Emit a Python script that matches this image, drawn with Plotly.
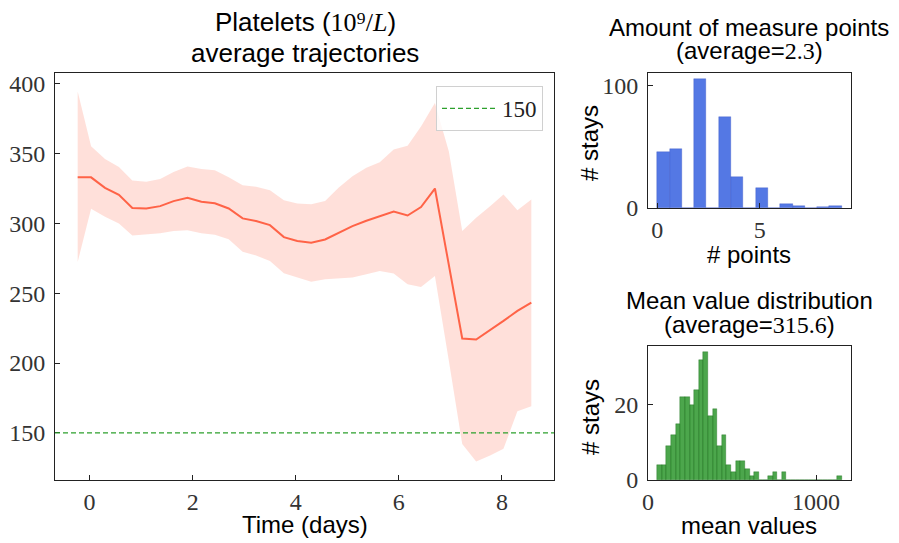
import numpy as np
import plotly.graph_objects as go

# platelets trajectory (days from admission)
days = [-0.23, 0.03, 0.30, 0.57, 0.83, 1.10, 1.37, 1.63, 1.90, 2.17, 2.43, 2.70,
        2.97, 3.23, 3.50, 3.77, 4.03, 4.30, 4.57, 4.83, 5.10, 5.37, 5.63, 5.90,
        6.17, 6.43, 6.70, 6.97, 7.23, 7.50, 7.77, 8.03, 8.30, 8.57]
mean_vals = [333, 333, 325.5, 320.5, 311, 310.7, 312.4, 316, 318.3, 315.5, 314.5, 310.7,
             303.6, 301.7, 298.8, 290.2, 287.4, 286.2, 288.5, 293.3, 298.1, 301.9, 305.2, 308.6,
             305.7, 311.7, 325, 271, 217.6, 216.9, 223.6, 230.2, 237.4, 243.3]
upper_vals = [394.5, 355.2, 346.2, 340.5, 330.7, 329.8, 331.9, 336.9, 340.7, 339, 338.1, 333.1,
              327.4, 326.2, 323.8, 316.7, 314.3, 313.8, 316, 325.5, 333.8, 339.8, 343.8, 352.9,
              355.7, 369.5, 386.2, 351.6, 294.5, 304, 312.4, 320.7, 309.5, 317.1]
lower_vals = [272.4, 310.5, 304.8, 300, 291.4, 291.9, 292.9, 294.5, 295.2, 292.9, 291.9, 288.6,
              279.8, 277.1, 273.1, 264.3, 261.2, 258.3, 260, 260.7, 261.2, 263.6, 265.9, 264.1,
              256.4, 254.5, 262.4, 201.6, 142.1, 129.5, 133.8, 138.6, 165.5, 169]
threshold = 150

# number of measure points per stay
n_points = [0, 1, 2, 3, 4, 5, 6, 7, 8, 9]
n_stays = [46, 48, 105, 74, 25, 16, 3, 2, 1, 2]
points_bins = 15
avg_points = "2.3"

# distribution of per-stay mean values (40 bins)
mean_min, mean_max = 55, 1153
mean_counts = [4, 4, 9, 12, 15, 22, 22, 20, 24, 32, 34, 17, 19, 9, 12, 4, 2, 5, 5, 3,
               1, 2, 0, 0, 1, 2, 0, 2, 0, 0, 0, 0, 0, 0, 0, 0, 0, 0, 0, 1]
avg_mean = "315.6"

# the page body has an 8px margin, so the figure is drawn 8px smaller
OFF = 8
W, H = 899 - OFF, 543 - OFF
SANS = "Liberation Sans"
SERIF = "Liberation Serif"


def px(x):
    return (x - OFF) / W


def py(y):
    return 1 - (y - OFF) / H


def pad(lo, hi, frac=0.05):
    span = hi - lo
    return [lo - frac * span, hi + frac * span]


def math(s):
    return "<span style='font-family:%s'>%s</span>" % (SERIF, s)


pts_hist, pts_edges = np.histogram(np.repeat(n_points, n_stays), bins=points_bins)
pts_centers = (pts_edges[:-1] + pts_edges[1:]) / 2

mean_edges = np.linspace(mean_min, mean_max, len(mean_counts) + 1)
mean_centers = (mean_edges[:-1] + mean_edges[1:]) / 2

fig = go.Figure()

fig.add_trace(go.Scatter(x=days, y=upper_vals, mode="lines", line=dict(width=0),
                         showlegend=False, hoverinfo="skip"))
fig.add_trace(go.Scatter(x=days, y=lower_vals, mode="lines", line=dict(width=0),
                         fill="tonexty", fillcolor="rgba(255,99,71,0.2)",
                         showlegend=False, hoverinfo="skip"))
fig.add_trace(go.Scatter(x=days, y=mean_vals, mode="lines",
                         line=dict(color="tomato", width=2), showlegend=False))
fig.add_trace(go.Scatter(x=[None], y=[None], mode="lines", name=str(threshold),
                         line=dict(color="#2ca02c", width=1.3, dash="5px,3px")))
fig.add_hline(y=threshold, line=dict(color="#2ca02c", width=1.3, dash="5px,3px"))

fig.add_trace(go.Bar(x=pts_centers, y=pts_hist, width=pts_edges[1] - pts_edges[0],
                     marker=dict(color="rgba(65,105,225,0.9)",
                                 line=dict(width=0.5, color="rgba(40,70,190,0.6)")),
                     xaxis="x2", yaxis="y2", showlegend=False))
fig.add_trace(go.Bar(x=mean_centers, y=mean_counts, width=mean_edges[1] - mean_edges[0],
                     marker=dict(color="rgba(0,128,0,0.7)",
                                 line=dict(width=0.5, color="rgba(0,90,0,0.6)")),
                     xaxis="x3", yaxis="y3", showlegend=False))

axis = dict(showline=True, mirror=True, linecolor="#222", linewidth=1,
            ticks="inside", ticklen=5, tickwidth=1, tickcolor="#222",
            showgrid=False, zeroline=False, ticklabelstandoff=4, automargin=False,
            tickfont=dict(family=SERIF, size=24, color="#333"))
xaxis_style = dict(axis, ticklabelstandoff=0)

main_dom_x = [px(55), px(554)]
side_dom_x = [px(648), px(851)]

fig.update_layout(
    width=W, height=H, margin=dict(l=0, r=0, t=0, b=0, autoexpand=False),
    plot_bgcolor="white", paper_bgcolor="white", bargap=0,
    font=dict(family=SANS, color="black"),
    xaxis=dict(xaxis_style, domain=main_dom_x, range=pad(days[0], days[-1]),
               tickvals=[0, 2, 4, 6, 8]),
    yaxis=dict(axis, domain=[py(480), py(73)],
               range=pad(min(lower_vals + [threshold]), max(upper_vals)),
               tickvals=[150, 200, 250, 300, 350, 400]),
    xaxis2=dict(xaxis_style, domain=side_dom_x, anchor="y2",
                range=pad(pts_edges[0], pts_edges[-1]), tickvals=[0, 5]),
    yaxis2=dict(axis, domain=[py(208), py(73)], anchor="x2",
                range=[0, max(pts_hist) * 1.05], tickvals=[0, 100]),
    xaxis3=dict(xaxis_style, domain=side_dom_x, anchor="y3",
                range=pad(mean_min, mean_max), tickvals=[0, 1000]),
    yaxis3=dict(axis, domain=[py(480), py(346)], anchor="x3",
                range=[0, max(mean_counts) * 1.05], tickvals=[0, 20]),
    legend=dict(x=px(543), y=py(86), xanchor="right", yanchor="top", itemwidth=55,
                bgcolor="rgba(255,255,255,0.8)", bordercolor="#d0d0d0", borderwidth=1,
                font=dict(family=SERIF, size=23, color="#222")),
)

notes = [
    ("Platelets (" + math("10⁹/<i>L</i>") + ")", 305, 39, 26),
    ("average trajectories", 305, 70, 26),
    ("Amount of measure points", 749, 43, 24),
    ("(average=" + math(avg_points) + ")", 749, 66, 24),
    ("Mean value distribution", 749, 316, 24),
    ("(average=" + math(avg_mean) + ")", 749, 340, 24),
    ("Time (days)", 305, 540, 24),
    ("# points", 749, 270, 24),
    ("mean values", 749, 541, 24),
]
for text, x, y, size in notes:
    fig.add_annotation(text=text, x=px(x), y=py(y), xref="paper", yref="paper",
                       xanchor="center", yanchor="bottom", showarrow=False,
                       font=dict(family=SANS, size=size, color="black"))
for y in [143, 417]:
    fig.add_annotation(text="# stays", x=px(590), y=py(y), xref="paper", yref="paper",
                       xanchor="center", yanchor="middle", showarrow=False, textangle=-90,
                       font=dict(family=SANS, size=24, color="black"))

fig.write_html("out.html")
